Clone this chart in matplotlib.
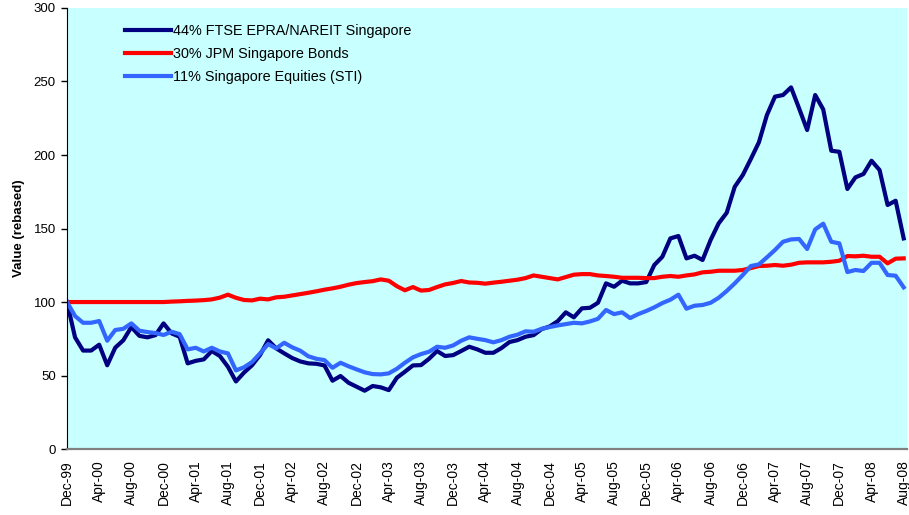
import numpy as np
import matplotlib.pyplot as plt
from matplotlib import rc

rc('font', family=['Liberation Sans', 'DejaVu Sans'])

# monthly values, Dec-99 = 100
reit = [100, 76, 67, 67, 71, 57, 69, 74, 83, 77, 76, 77.5, 85.5, 78.7, 76.4, 58.3, 60, 61, 66.7, 63.3, 56,
        46, 52, 57, 64, 74, 68.5, 65.1, 61.9, 59.6, 58.3, 58, 56.9, 46.5, 49.7, 45.1, 42.4, 39.7, 42.9, 42, 40.1,
        48.5, 52.6, 56.9, 57.1, 61.4, 66.7, 63.3, 63.9, 66.7, 69.6, 67.8, 65.5, 65.5, 68.7, 72.8, 74.1, 76.4, 77.5, 81.6, 83.4,
        87, 93, 89.6, 95.7, 96.1, 99.5, 112.7, 110.4, 114.5, 112.7, 112.7, 113.6, 125.2, 130.8, 143.3, 144.9, 129.7, 131.5, 128.6, 142.2,
        153.5, 160.7, 178.4, 186.4, 197.3, 208.6, 227.2, 239.7, 240.8, 246, 231.7, 217, 240.8, 231, 202.9, 202.2,
        176.9, 184.8, 187.1, 196.1, 189.8, 166, 168.9, 143.3]

bonds = [100, 100, 100, 100, 100, 100, 100, 100, 100, 100, 100, 100, 100,
         100.3, 100.5, 100.8, 101, 101.3, 101.8, 103, 105,
         102.9, 101.4, 101.1, 102.3, 101.8, 103.2, 103.6, 104.5, 105.4, 106.3, 107.3, 108.4, 109.3, 110.4, 111.8, 112.9, 113.6, 114.2, 115.4, 114.5,
         110.8, 108, 110.2, 107.8, 108.2, 110.2, 112, 113, 114.3, 113.3, 113.1,
         112.5, 113.2, 113.8, 114.5, 115.2, 116.3, 118.1, 117.2, 116.3,
         115.4, 117, 118.6, 119, 119, 118.1, 117.7, 117.2, 116.5, 116.5, 116.5, 116.3, 116.3, 117.2, 117.7, 117.2,
         118.1, 118.8, 120.2, 120.6, 121.3, 121.3, 121.3, 121.8, 123.1, 124.5, 124.7, 125.2, 124.7, 125.4, 126.7, 127, 127, 127,
         127.4, 128.1, 131.3, 131.1, 131.5, 130.8, 130.8, 126.3, 129.5, 129.7]

sti = [100, 90.5, 85.9, 85.9, 87.1, 73.7, 81, 81.8, 85.5, 80.5, 79.6, 78.9, 77.6, 79.8, 78.2, 67.8, 68.9, 66.4, 68.9, 66.4, 65.1,
       53.5, 55.6, 59.2, 65.1, 71.4, 68.5, 72.3, 69.2, 66.9, 63.1, 61.4, 60.5, 55.3, 58.7, 56.3, 54.2, 52.2, 51, 50.8, 51.5,
       54.6, 58.7, 62.4, 64.6, 66.2, 69.6, 68.9, 70.5, 73.7, 76, 75, 74.1, 72.6, 74.1, 76.4, 77.8, 80.1, 79.8, 81.8, 83,
       84.1, 85, 85.9, 85.5, 86.8, 88.6, 94.6, 91.8, 93, 89.1, 91.8, 93.9, 96.4, 99.3, 101.6, 105, 95.5, 97.5, 98, 99.5,
       102.9, 107.5, 112.7, 118.4, 124.5, 125.6, 130.4, 135.4, 141, 142.6, 142.9, 136.1, 149.4, 153.3, 141, 139.9,
       120.4, 121.8, 121.1, 126.7, 126.7, 118.4, 117.9, 110]

tick_labels = ['Dec-99', 'Apr-00', 'Aug-00', 'Dec-00', 'Apr-01', 'Aug-01', 'Dec-01', 'Apr-02', 'Aug-02',
               'Dec-02', 'Apr-03', 'Aug-03', 'Dec-03', 'Apr-04', 'Aug-04', 'Dec-04', 'Apr-05', 'Aug-05',
               'Dec-05', 'Apr-06', 'Aug-06', 'Dec-06', 'Apr-07', 'Aug-07', 'Dec-07', 'Apr-08', 'Aug-08']

series_names = ['44% FTSE EPRA/NAREIT Singapore', '30% JPM Singapore Bonds', '11% Singapore Equities (STI)']


def draw():
    fig = plt.figure(figsize=(9.09, 5.15), dpi=100)
    ax = fig.add_axes([0.0737, 0.128, 0.924, 0.8565])
    ax.set_facecolor('#C8FFFF')

    months = np.arange(len(reit))
    ax.plot(months, reit, color='#000080', lw=3.0, label=series_names[0])
    ax.plot(months, bonds, color='#FF0000', lw=3.0, label=series_names[1])
    ax.plot(months, sti, color='#3366FF', lw=3.0, label=series_names[2])

    ax.set_xlim(0, 104.4)
    ax.set_ylim(0, 300)
    ax.set_yticks(range(0, 301, 50))
    ax.set_xticks(np.arange(0, len(reit), 4))
    ax.set_xticklabels(tick_labels, rotation=90, fontsize=10)
    ax.tick_params(axis='x', length=0, pad=8)
    ax.tick_params(axis='y', length=4, width=1, labelsize=9.5, pad=4)

    for s in ['top', 'right']:
        ax.spines[s].set_visible(False)
    ax.spines['left'].set_color('black')
    ax.spines['bottom'].set_color('#808080')
    ax.spines['bottom'].set_linewidth(1.6)

    ax.set_ylabel('Value (rebased)', fontsize=9.5, fontweight='bold')
    ax.yaxis.set_label_coords(-0.05, 0.5)

    fig.legend(loc='upper left', bbox_to_anchor=(0.1375, 0.953), frameon=False,
               fontsize=10.4, handlelength=3.2, handletextpad=0.15, labelspacing=0.62,
               borderpad=0, borderaxespad=0)

    plt.savefig('out.png', dpi=100)


if __name__ == "__main__":
    draw()
